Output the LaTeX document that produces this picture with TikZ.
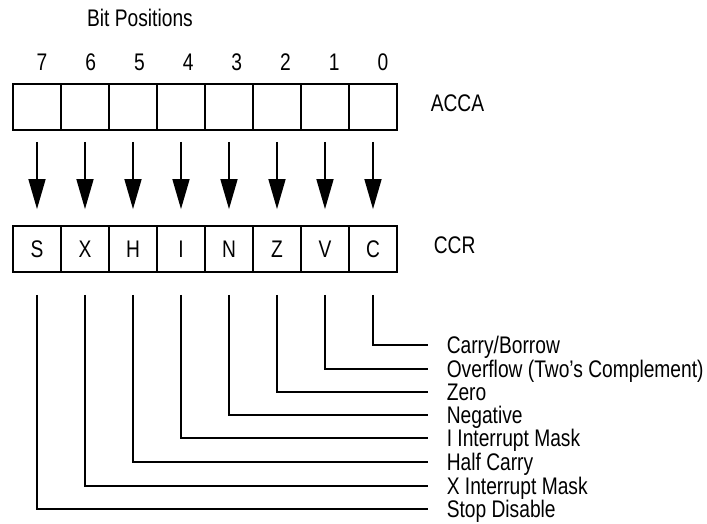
\documentclass[tikz,border=0pt]{standalone}
\usepackage{fontspec}
\setmainfont{Liberation Sans}[FakeStretch=0.80]
\usetikzlibrary{arrows.meta}

\begin{document}
\begin{tikzpicture}[x=1pt, y=-1pt, line width=1.6pt,
    every node/.style={font=\fontsize{24}{27}\selectfont},
    cell/.style={draw, minimum width=48pt, minimum height=46pt, inner sep=0pt, line width=1.8pt},
    lbl/.style={anchor=west, inner sep=0pt, text height=17pt, text depth=0pt}]
    \useasboundingbox (0,0) rectangle (707,523);
    \node (title) at (140,18) {Bit Positions};
    \foreach \b [count=\i from 0] in {7,6,5,4,3,2,1,0}
    { \node[cell] (a\b) at (37+48*\i, 107) {};
      \node (n\b) at (42+48.7*\i, 62) {\b};}
    \foreach \f/\b [count=\i from 0] in {S/7, X/6, H/5, I/4, N/3, Z/2, V/1, C/0}
    { \node[cell] (c\b) at (37+48*\i, 249) {\f};
      \draw[-{Triangle[length=30pt, width=17pt]}, shorten <=11pt, shorten >=16pt] (a\b) -- (c\b);}
    \node[lbl] (acca) at (430,103) {ACCA};
    \node[lbl] (ccr) at (433,245) {CCR};
    \foreach \b/\y/\t in {0/345/{Carry/Borrow}, 1/369/Overflow (Two’s Complement), 2/392/Zero,
        3/415/Negative, 4/438/I Interrupt Mask, 5/462/Half Carry, 6/486/X Interrupt Mask, 7/509/Stop Disable}
    { \node[lbl] (l\b) at (446, \y) {\t};
      \draw ([yshift=-22pt]c\b.south) |- ([xshift=-18pt]l\b.west);}
\end{tikzpicture}
\end{document}
